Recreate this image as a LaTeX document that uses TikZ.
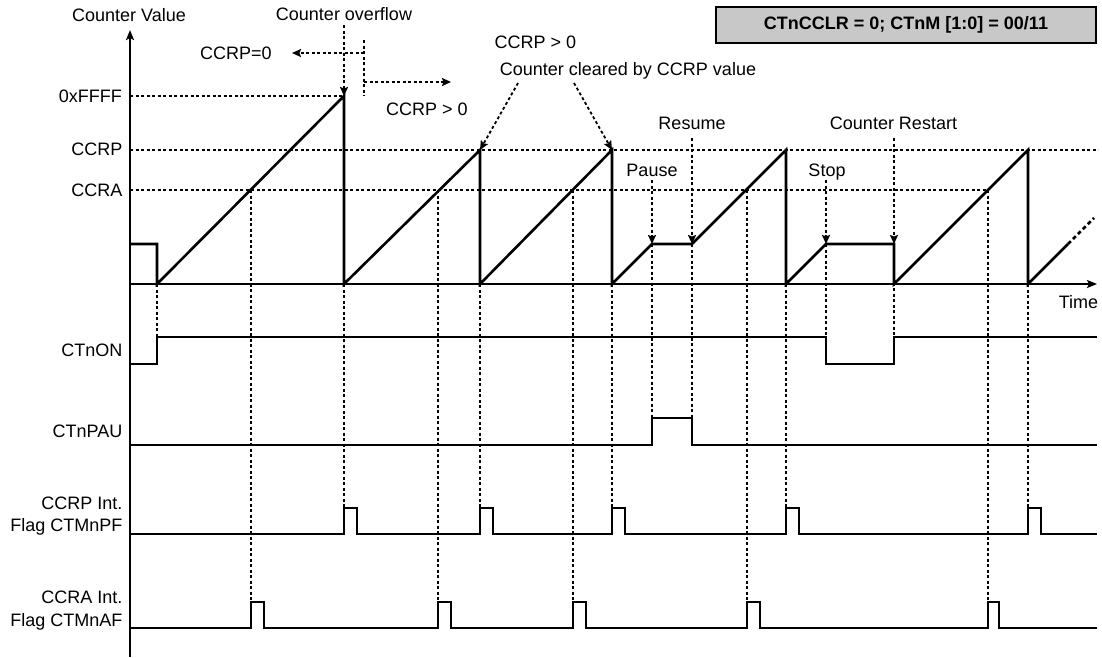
\documentclass[tikz,border=0pt]{standalone}
\usepackage{fontspec}
\setmainfont{Liberation Sans}
\usetikzlibrary{arrows.meta}
\definecolor{boxgray}{RGB}{200,200,200}
\begin{document}
\begin{tikzpicture}[x=1pt,y=-1pt,
  lbl/.style={font=\fontsize{18}{22}\selectfont, inner sep=0pt},
  wave/.style={line width=2.6pt, line join=miter},
  sig/.style={line width=2pt},
  guide/.style={line width=1.8pt, dash pattern=on 3pt off 2.5pt},
  tipped/.style={-{Stealth[length=9pt,width=8pt,inset=1.5pt]}},
  axtip/.style={-{Stealth[length=10pt,width=8pt,inset=2pt]}},
]
\useasboundingbox (0,0) rectangle (1102,657);

% ---- key coordinates
\coordinate (axbot) at (130,657);
\coordinate (axtop) at (130,30);
\coordinate (org)   at (130,284);
\coordinate (tend)  at (1097,284);

% ---- horizontal guide lines
\draw[guide] (130,96) -- (344,96);
\draw[guide] (130,150) -- (1098,150);
\draw[guide] (130,190) -- (988,190);

% ---- vertical guide lines down to the signals
\draw[guide] (157,284) -- (157,337);
\draw[guide] (251,190) -- (251,602);
\draw[guide] (344,284) -- (344,507);
\draw[guide] (438,190) -- (438,602);
\draw[guide] (480,284) -- (480,507);
\draw[guide] (573,190) -- (573,602);
\draw[guide] (612,284) -- (612,507);
\draw[guide] (652,244) -- (652,418);
\draw[guide] (692,244) -- (692,418);
\draw[guide] (747,190) -- (747,602);
\draw[guide] (786,284) -- (786,507);
\draw[guide] (826,244) -- (826,337);
\draw[guide] (894,244) -- (894,337);
\draw[guide] (988,190) -- (988,602);
\draw[guide] (1028,284) -- (1028,507);

% ---- axes
\draw[wave, axtip] (axbot) -- (axtop);
\draw[wave, axtip] (org) -- (tend);

% ---- counter waveform
\coordinate (pkF)  at (344,96);
\coordinate (pkP1) at (480,150);
\coordinate (pkP2) at (612,150);
\coordinate (paus) at (652,244);
\coordinate (resm) at (692,244);
\coordinate (stp)  at (826,244);
\coordinate (rst)  at (894,244);
\coordinate (cont) at (1068,244);
\coordinate (cend) at (1094,218);
\draw[wave] (130,244) -- (157,244) -- (157,284) -- (pkF) -- (344,284) -- (pkP1) -- (480,284)
  -- (pkP2) -- (612,284) -- (paus) -- (resm) -- (786,150) -- (786,284) -- (stp) -- (rst)
  -- (894,284) -- (1028,150) -- (1028,284) -- (cont);
\draw[wave, dash pattern=on 4pt off 3pt] (cont) -- (cend);

% ---- event arrows
\coordinate (ovtop) at (344,25);
\coordinate (ovA) at (364,40);
\coordinate (ovB) at (364,96);
\coordinate (ovC) at (364,53);
\coordinate (ovL) at (292,53);
\coordinate (ovD) at (364,82);
\coordinate (ovR) at (451,82);
\draw[guide, tipped] (ovtop) -- (pkF);
\draw[guide] (ovA) -- (ovB);
\draw[guide, tipped] (ovC) -- (ovL);
\draw[guide, tipped] (ovD) -- (ovR);
\coordinate (clA) at (518,83);
\coordinate (clB) at (574,83);
\draw[guide, tipped] (clA) -- (pkP1);
\draw[guide, tipped] (clB) -- (pkP2);
\coordinate (pauT) at (652,180);
\coordinate (resT) at (692,138);
\coordinate (stpT) at (826,180);
\coordinate (rstT) at (894,138);
\draw[guide, tipped] (pauT) -- (paus);
\draw[guide, tipped] (resT) -- (resm);
\draw[guide, tipped] (stpT) -- (stp);
\draw[guide, tipped] (rstT) -- (rst);

% ---- signals
\draw[sig] (130,364) -- (157,364) -- (157,337) -- (826,337) -- (826,364) -- (894,364) -- (894,337) -- (1097,337);
\draw[sig] (130,445) -- (652,445) -- (652,418) -- (692,418) -- (692,445) -- (1097,445);
\draw[sig] (130,534) foreach \x in {344,480,612,786,1028} { -- (\x,534) -- (\x,507.5) -- (\x+13,507.5) -- (\x+13,534) } -- (1097,534);
\draw[sig] (130,628) foreach \x/\w in {251/13,438/13,573/13,747/13,988/11} { -- (\x,628) -- (\x,602) -- (\x+\w,602) -- (\x+\w,628) } -- (1097,628);

% ---- texts
\node[lbl, anchor=base] (tcv)  at (129,21.7) {Counter Value};
\node[lbl, anchor=base] (tov)  at (344,20.7) {Counter overflow};
\node[lbl, anchor=base] (tc0)  at (236,59.8) {CCRP=0};
\node[lbl, anchor=base] (tcg1) at (427,115.2) {CCRP > 0};
\node[lbl, anchor=base] (tcg2) at (535.5,48.3) {CCRP > 0};
\node[lbl, anchor=base] (tclr) at (628,75) {Counter cleared by CCRP value};
\node[lbl, anchor=base] (tres) at (692,129.3) {Resume};
\node[lbl, anchor=base] (trst) at (893.5,129.3) {Counter Restart};
\node[lbl, anchor=base] (tpau) at (652,176.2) {Pause};
\node[lbl, anchor=base] (tstp) at (827,176.4) {Stop};
\node[lbl, anchor=base] (ttim) at (1078.5,308.3) {Time};

\node[lbl, anchor=base east] (lF)  at (122,102.2) {0xFFFF};
\node[lbl, anchor=base east] (lP)  at (122.5,155.3) {CCRP};
\node[lbl, anchor=base east] (lA)  at (122.5,196) {CCRA};
\node[lbl, anchor=base east] (lon) at (122.5,356.7) {CTnON};
\node[lbl, anchor=base east] (lpa) at (122.5,437.3) {CTnPAU};
\node[lbl, anchor=base east] (lpf1) at (122.5,509.3) {CCRP Int.};
\node[lbl, anchor=base east] (lpf2) at (122.5,531.7) {Flag CTMnPF};
\node[lbl, anchor=base east] (laf1) at (122.5,603.5) {CCRA Int.};
\node[lbl, anchor=base east] (laf2) at (122.5,626.3) {Flag CTMnAF};

\node[lbl, draw, fill=boxgray, line width=1.8pt, minimum width=380pt, minimum height=36pt,
      font=\fontsize{18}{22}\selectfont\bfseries] (mode) at (906,24.7) {CTnCCLR = 0; CTnM [1:0] = 00/11};
\end{tikzpicture}
\end{document}
